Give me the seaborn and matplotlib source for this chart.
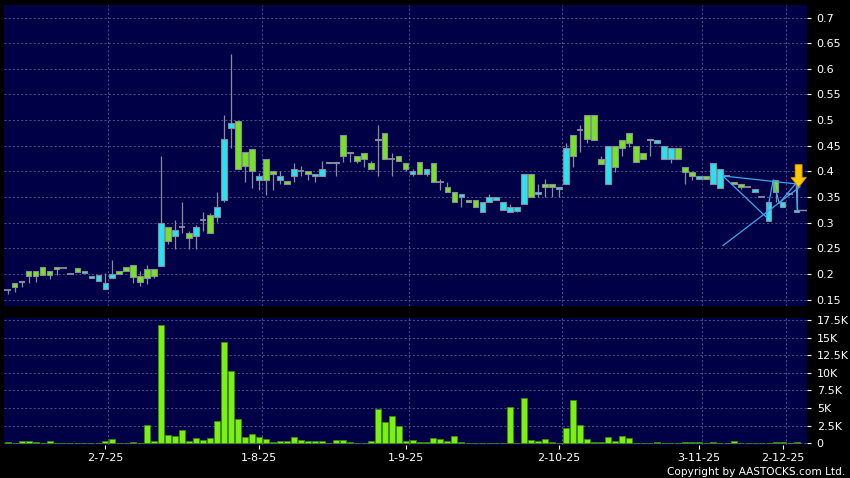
import numpy as np
import pandas as pd
import seaborn as sns
import matplotlib.pyplot as plt

# daily candles, cyan = close above open, green = close below open
open_ = [0.168, 0.183, 0.187, 0.205, 0.206, 0.213, 0.206, 0.213, 0.211, 0.199,
         0.211, 0.201, 0.191, 0.187, 0.170, 0.191, 0.205, 0.213, 0.217, 0.195,
         0.210, 0.210, 0.216, 0.291, 0.274, 0.291, 0.279, 0.274, 0.305, 0.314,
         0.310, 0.345, 0.484, 0.499, 0.438, 0.444, 0.384, 0.425, 0.400, 0.384,
         0.381, 0.390, 0.400, 0.400, 0.390, 0.390, 0.418, 0.418, 0.470, 0.438,
         0.429, 0.435, 0.416, 0.461, 0.474, 0.425, 0.429, 0.416, 0.395, 0.419,
         0.395, 0.416, 0.380, 0.369, 0.359, 0.349, 0.345, 0.345, 0.320, 0.340,
         0.345, 0.325, 0.320, 0.323, 0.336, 0.394, 0.355, 0.375, 0.375, 0.365,
         0.375, 0.470, 0.480, 0.509, 0.509, 0.425, 0.375, 0.449, 0.461, 0.474,
         0.449, 0.435, 0.464, 0.455, 0.425, 0.425, 0.445, 0.409, 0.399, 0.385,
         0.390, 0.375, 0.368, 0.390, 0.380, 0.375, 0.369, 0.359, 0.349, 0.304,
         0.384, 0.331, 0.355, 0.321]
high = [0.168, 0.183, 0.187, 0.205, 0.206, 0.213, 0.206, 0.213, 0.211, 0.199,
        0.211, 0.205, 0.196, 0.197, 0.201, 0.228, 0.205, 0.213, 0.217, 0.206,
        0.217, 0.210, 0.430, 0.291, 0.305, 0.340, 0.284, 0.295, 0.320, 0.319,
        0.359, 0.510, 0.628, 0.499, 0.438, 0.444, 0.396, 0.425, 0.400, 0.400,
        0.381, 0.416, 0.410, 0.400, 0.395, 0.420, 0.418, 0.418, 0.470, 0.438,
        0.429, 0.435, 0.420, 0.490, 0.474, 0.435, 0.429, 0.416, 0.405, 0.419,
        0.404, 0.416, 0.385, 0.380, 0.359, 0.355, 0.345, 0.345, 0.340, 0.355,
        0.349, 0.340, 0.336, 0.330, 0.394, 0.394, 0.375, 0.385, 0.375, 0.369,
        0.456, 0.470, 0.490, 0.509, 0.509, 0.430, 0.449, 0.449, 0.461, 0.474,
        0.449, 0.435, 0.464, 0.461, 0.449, 0.445, 0.445, 0.409, 0.399, 0.390,
        0.390, 0.416, 0.404, 0.390, 0.380, 0.375, 0.369, 0.365, 0.349, 0.340,
        0.384, 0.340, 0.355, 0.375]
low = [0.160, 0.165, 0.175, 0.183, 0.185, 0.198, 0.190, 0.198, 0.211, 0.199,
       0.204, 0.201, 0.191, 0.187, 0.170, 0.191, 0.200, 0.205, 0.182, 0.177,
       0.180, 0.191, 0.216, 0.259, 0.249, 0.279, 0.249, 0.249, 0.284, 0.279,
       0.301, 0.340, 0.445, 0.404, 0.380, 0.368, 0.364, 0.354, 0.364, 0.375,
       0.375, 0.380, 0.390, 0.384, 0.380, 0.390, 0.416, 0.390, 0.419, 0.419,
       0.416, 0.409, 0.404, 0.390, 0.425, 0.390, 0.420, 0.401, 0.391, 0.395,
       0.390, 0.380, 0.364, 0.359, 0.340, 0.330, 0.340, 0.330, 0.320, 0.340,
       0.345, 0.325, 0.320, 0.320, 0.336, 0.349, 0.349, 0.349, 0.349, 0.349,
       0.375, 0.409, 0.438, 0.455, 0.461, 0.415, 0.375, 0.399, 0.429, 0.448,
       0.419, 0.425, 0.429, 0.455, 0.425, 0.416, 0.425, 0.375, 0.384, 0.385,
       0.385, 0.375, 0.368, 0.390, 0.375, 0.365, 0.369, 0.359, 0.349, 0.304,
       0.340, 0.331, 0.355, 0.321]
close = [0.168, 0.174, 0.184, 0.195, 0.195, 0.198, 0.198, 0.209, 0.211, 0.199,
         0.204, 0.205, 0.196, 0.197, 0.183, 0.200, 0.200, 0.205, 0.193, 0.185,
         0.191, 0.195, 0.300, 0.265, 0.285, 0.291, 0.269, 0.291, 0.305, 0.279,
         0.330, 0.464, 0.494, 0.404, 0.410, 0.400, 0.391, 0.384, 0.394, 0.390,
         0.375, 0.404, 0.400, 0.395, 0.395, 0.404, 0.416, 0.416, 0.430, 0.435,
         0.420, 0.425, 0.404, 0.464, 0.425, 0.425, 0.420, 0.404, 0.400, 0.395,
         0.404, 0.380, 0.380, 0.359, 0.340, 0.355, 0.340, 0.330, 0.340, 0.349,
         0.349, 0.340, 0.330, 0.330, 0.394, 0.349, 0.359, 0.369, 0.369, 0.369,
         0.445, 0.430, 0.480, 0.464, 0.461, 0.415, 0.449, 0.409, 0.445, 0.455,
         0.419, 0.425, 0.461, 0.461, 0.449, 0.445, 0.425, 0.399, 0.390, 0.390,
         0.385, 0.416, 0.404, 0.390, 0.375, 0.369, 0.369, 0.365, 0.349, 0.340,
         0.359, 0.340, 0.355, 0.3245]
volume = [190, 100, 330, 330, 200, 50, 380, 20, 20, 100,
          50, 50, 50, 50, 330, 570, 50, 20, 190, 100,
          2550, 380, 16750, 1140, 1040, 1900, 330, 710, 470, 760,
          3120, 14330, 10220, 3400, 950, 1280, 900, 660, 140, 330,
          330, 850, 470, 280, 330, 380, 100, 520, 430, 240,
          50, 50, 280, 4870, 2980, 3880, 2460, 280, 430, 140,
          140, 760, 600, 280, 1040, 140, 50, 50, 50, 50,
          50, 50, 5200, 20, 6390, 430, 280, 600, 140, 100,
          2220, 6100, 2550, 660, 140, 140, 950, 330, 1040, 710,
          100, 50, 50, 140, 50, 100, 50, 240, 140, 240,
          50, 140, 50, 20, 380, 50, 50, 50, 50, 50,
          240, 240, 50, 190]

tick_idx = [14, 36, 57, 79, 99, 111]
tick_labels = ["2-7-25", "1-8-25", "1-9-25", "2-10-25", "3-11-25", "2-12-25"]
price_ticks = [0.15, 0.2, 0.25, 0.3, 0.35, 0.4, 0.45, 0.5, 0.55, 0.6, 0.65, 0.7]
vol_ticks = [0, 2500, 5000, 7500, 10000, 12500, 15000, 17500]
vol_labels = ["0", "2.5K", "5K", "7.5K", "10K", "12.5K", "15K", "17.5K"]

# pattern lines drawn over the last weeks (start/end bar index and price)
seg_x0 = [102.45, 102.45, 102.45, 108.65, 109.66, 110.52, 112.95]
seg_y0 = [0.391, 0.391, 0.255, 0.311, 0.383, 0.338, 0.377]
seg_x1 = [113.28, 108.65, 113.52, 109.66, 110.52, 112.95, 113.10]
seg_y1 = [0.375, 0.311, 0.370, 0.383, 0.338, 0.377, 0.3245]

navy = "#000046"
cyan = "#26e3f2"
green = "#74e51e"
vgreen = "#7cf014"
edge = "#8a8c9c"
gridc = "#5c5c90"

df = pd.DataFrame({"o": open_, "h": high, "l": low, "c": close, "v": volume})
df["x"] = np.arange(len(df))
up = df.c > df.o
dn = df.c < df.o
flat = df.c == df.o

sns.set_style("dark", {"axes.facecolor": navy, "figure.facecolor": "black"})
plt.rcParams["font.family"] = ["DejaVu Sans"]

fig = plt.figure(figsize=(8.5, 4.78), dpi=100, facecolor="black")
W, H = 850, 478
ax = fig.add_axes([4 / W, 1 - 305.5 / H, 803 / W, 300.5 / H])
axv = fig.add_axes([4 / W, 1 - 445 / H, 803 / W, 126.7 / H])

xlim = (-0.52, 114.5)

# price panel
for p in price_ticks:
    ax.axhline(p, color=gridc, lw=0.6, ls=(0, (2.5, 2.5)), zorder=0)
for t in tick_idx:
    ax.axvline(t + 0.43, color=gridc, lw=0.6, ls=(0, (2.5, 2.5)), zorder=0)

ax.vlines(df.x, df.l, df.h, color=edge, lw=0.9, zorder=2)
ax.bar(df.x[up], (df.c - df.o)[up], bottom=df.o[up], width=0.82,
       color=cyan, edgecolor=edge, linewidth=0.8, zorder=3)
ax.bar(df.x[dn], (df.o - df.c)[dn], bottom=df.c[dn], width=0.82,
       color=green, edgecolor=edge, linewidth=0.8, zorder=3)
ax.hlines(df.c[flat], df.x[flat] - 0.45, df.x[flat] + 0.45, color=edge, lw=1.3, zorder=3)

for x0, y0, x1, y1 in zip(seg_x0, seg_y0, seg_x1, seg_y1):
    ax.plot([x0, x1], [y0, y1], color="#3fa8ee", lw=0.9, zorder=4)
# last close line
ax.hlines(close[-1], df.x.iloc[-1], xlim[1], color=edge, lw=1.0, zorder=3)

last = df.x.iloc[-1] + 0.3
ax.annotate("", xy=(last, 0.369), xytext=(last, 0.413),
            arrowprops=dict(facecolor="#ffc800", edgecolor="#d89000", lw=0.6,
                            width=5, headwidth=11, headlength=7, shrink=0),
            annotation_clip=False, zorder=6)

ax.set_xlim(*xlim)
ax.set_ylim(0.1383, 0.7244)
ax.set_yticks(price_ticks)
ax.set_yticklabels([f"{p:g}" for p in price_ticks])
ax.yaxis.tick_right()
ax.set_xticks([])
ax.tick_params(axis="y", colors="white", labelcolor="white", length=3, width=0.8,
               labelsize=8, pad=4, right=True, direction="out")
ax.grid(False)
for s in ax.spines.values():
    s.set_visible(False)

# volume panel
for v in vol_ticks:
    axv.axhline(v, color=gridc, lw=0.6, ls=(0, (2.5, 2.5)), zorder=0)
for t in tick_idx:
    axv.axvline(t + 0.43, color=gridc, lw=0.6, ls=(0, (2.5, 2.5)), zorder=0)

sns.barplot(x=df.x, y=df.v, native_scale=True, color=vgreen, saturation=1,
            edgecolor="#3a8a10", linewidth=0.6, width=0.86, errorbar=None,
            ax=axv, zorder=3)

axv.set_xlim(*xlim)
axv.set_ylim(-240, 17740)
axv.set_xlabel("")
axv.set_ylabel("")
axv.set_yticks(vol_ticks)
axv.set_yticklabels(vol_labels)
axv.yaxis.tick_right()
axv.set_xticks(tick_idx)
axv.set_xticklabels(tick_labels)
axv.tick_params(axis="y", colors="white", labelcolor="white", length=3, width=0.8,
                labelsize=8, pad=4, right=True, direction="out")
axv.tick_params(axis="x", colors="white", labelcolor="white", length=3, width=0.8,
                labelsize=8, pad=3, bottom=True, direction="out")
axv.grid(False)
for s in axv.spines.values():
    s.set_visible(False)

fig.text(0.994, 0.003, "Copyright by AASTOCKS.com Ltd.", color="white",
         fontsize=7.6, ha="right", va="bottom")

fig.savefig("out.png", dpi=100, facecolor="black")
